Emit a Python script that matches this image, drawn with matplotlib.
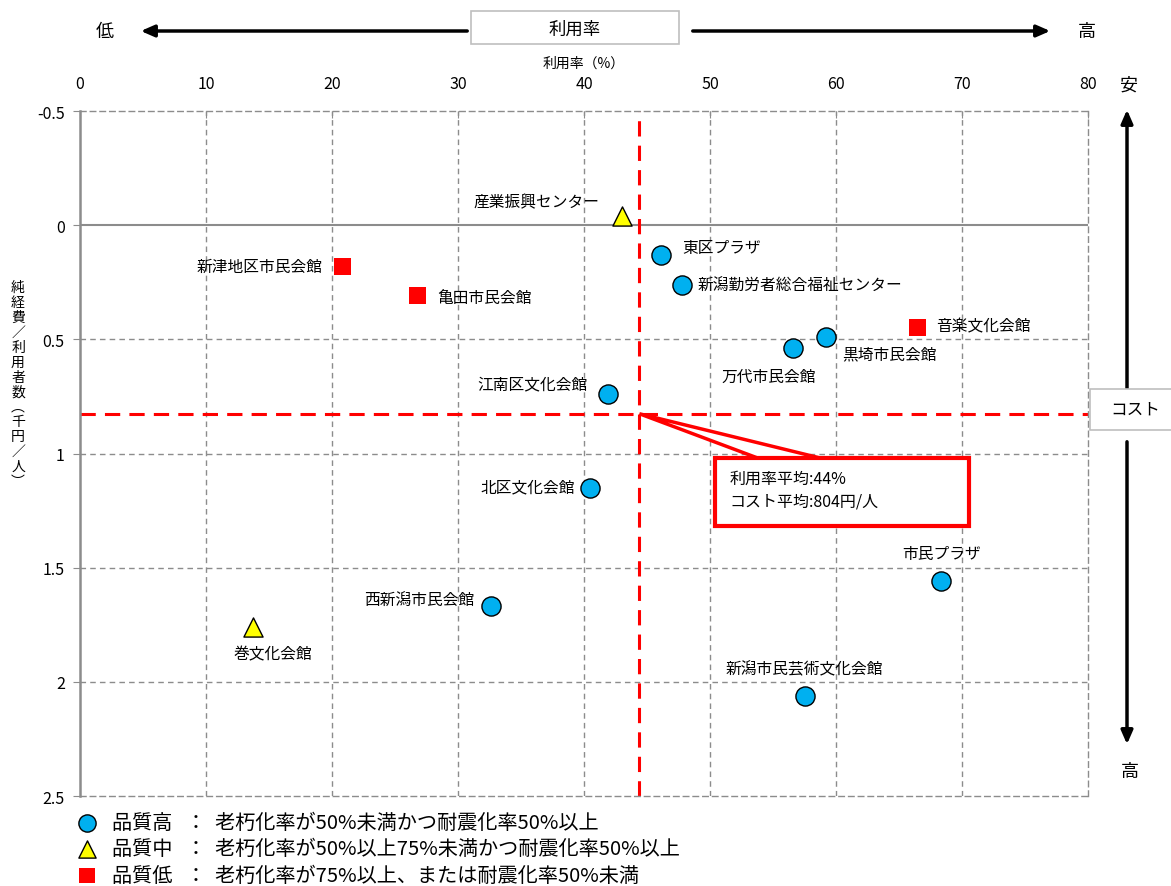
import matplotlib
matplotlib.use('Agg')
import matplotlib.pyplot as plt
from matplotlib.patches import Rectangle, Polygon

plt.rcParams['font.family'] = ['Noto Sans CJK JP', 'DejaVu Sans']

# データ
names = ['産業振興センター', '東区プラザ', '新潟勤労者総合福祉センター', '新津地区市民会館',
         '亀田市民会館', '音楽文化会館', '黒埼市民会館', '万代市民会館', '江南区文化会館',
         '北区文化会館', '市民プラザ', '西新潟市民会館', '巻文化会館', '新潟市民芸術文化会館']
usage = [43.0, 46.1, 47.8, 20.8, 26.8, 66.5, 59.2, 56.6, 41.9, 40.5, 68.3, 32.6, 13.7, 57.5]
cost = [-0.04, 0.13, 0.26, 0.18, 0.31, 0.45, 0.49, 0.54, 0.74, 1.15, 1.56, 1.67, 1.76, 2.06]
quality = ['中', '高', '高', '低', '低', '低', '高', '高', '高', '高', '高', '高', '中', '高']

avg_usage = 44.4
avg_cost = 0.826

legend_text = {
    '高': '品質高   ：  老朽化率が50%未満かつ耐震化率50%以上',
    '中': '品質中   ：  老朽化率が50%以上75%未満かつ耐震化率50%以上',
    '低': '品質低   ：  老朽化率が75%以上、または耐震化率50%未満',
}
styles = {
    '高': dict(marker='o', s=190, c='#00B0F0', edgecolors='black', linewidths=1.0),
    '中': dict(marker='^', s=190, c='#FFFF00', edgecolors='black', linewidths=1.0),
    '低': dict(marker='s', s=150, c='#FF0000', edgecolors='none'),
}

# ラベル位置 (ピクセルオフセット)
offsets = {
    '産業振興センター': (-22, 14, 'right'),
    '東区プラザ': (21, 7, 'left'),
    '新潟勤労者総合福祉センター': (15, -1, 'left'),
    '新津地区市民会館': (-20, 0, 'right'),
    '亀田市民会館': (20, -2, 'left'),
    '音楽文化会館': (18, 2, 'left'),
    '黒埼市民会館': (16, -17, 'left'),
    '万代市民会館': (23, -28, 'right'),
    '江南区文化会館': (-20, 10, 'right'),
    '北区文化会館': (-15, 1, 'right'),
    '市民プラザ': (1, 28, 'center'),
    '西新潟市民会館': (-16, 6, 'right'),
    '巻文化会館': (20, -27, 'center'),
    '新潟市民芸術文化会館': (0, 27, 'center'),
}

W, H = 1171, 887
fig = plt.figure(figsize=(W / 100, H / 100), dpi=100)
ax = fig.add_axes([80 / W, 1 - 797 / H, 1008 / W, 685 / H])

grid_c = '#8c8c8c'
ax.set_xlim(0, 80)
ax.set_ylim(2.5, -0.5)
ax.set_xticks(range(0, 81, 10))
ax.set_yticks([-0.5, 0, 0.5, 1, 1.5, 2, 2.5])
ax.set_yticklabels(['-0.5', '0', '0.5', '1', '1.5', '2', '2.5'])
ax.xaxis.tick_top()
ax.xaxis.set_label_position('top')
ax.tick_params(axis='x', direction='in', length=5, color=grid_c, labelsize=11.5, pad=14)
ax.tick_params(axis='y', direction='out', length=5, color=grid_c, labelsize=11.5, pad=6)

for x in range(10, 80, 10):
    ax.axvline(x, color=grid_c, ls=(0, (4, 3)), lw=1, zorder=0)
for y in [0.5, 1, 1.5, 2]:
    ax.axhline(y, color=grid_c, ls=(0, (4, 3)), lw=1, zorder=0)
ax.axhline(0, color=grid_c, lw=1.5, zorder=0)

for side in ['top', 'right', 'bottom']:
    ax.spines[side].set_color(grid_c)
    ax.spines[side].set_linestyle((0, (4, 3)))
    ax.spines[side].set_linewidth(1)
ax.spines['left'].set_color(grid_c)
ax.spines['left'].set_linewidth(1.8)

ax.set_xlabel('利用率（%）', fontsize=10, labelpad=6)

# 平均線
ax.axvline(avg_usage, color='red', ls=(0, (5, 3)), lw=2.2, zorder=1)
ax.axhline(avg_cost, color='red', ls=(0, (5, 3)), lw=2.2, zorder=1)

handles = []
for q in ['高', '中', '低']:
    xs = [u for u, k in zip(usage, quality) if k == q]
    ys = [c for c, k in zip(cost, quality) if k == q]
    h = ax.scatter(xs, ys, zorder=4, label=legend_text[q], **styles[q])
    handles.append(h)

for n, u, c in zip(names, usage, cost):
    dx, dy, ha = offsets[n]
    ax.annotate(n, (u, c), xytext=(dx, dy), textcoords='offset pixels',
                ha=ha, va='center', fontsize=11.3, zorder=5)

# 平均の吹き出し
tip = (ax.transData + ax.transAxes.inverted()).transform((avg_usage, avg_cost))
ax.add_patch(Polygon([tip, (0.7014, 0.4774), (0.7788, 0.4774)], closed=True,
                     transform=ax.transAxes, fc='white', ec='red', lw=2.5, zorder=6))
ax.add_patch(Rectangle((0.630, 0.394), 0.252, 0.0993, transform=ax.transAxes,
                       fc='white', ec='red', lw=3, zorder=7, clip_on=False))
ax.text(0.6448, 0.4635, '利用率平均:44%', transform=ax.transAxes,
        fontsize=11.5, va='center', ha='left', zorder=8)
ax.text(0.6448, 0.430, 'コスト平均:804円/人', transform=ax.transAxes,
        fontsize=11.5, va='center', ha='left', zorder=8)

# 縦書きの軸ラベル
ylabel = '純経費／利用者数︵千円／人︶'
fig.text(18 / W, 1 - 385 / H, '\n'.join(ylabel), ha='center', va='center',
         fontsize=10, linespacing=1.08)


def fp(x, y):
    return (x / W, 1 - y / H)


# 上部の矢印と見出し
arrow_kw = dict(arrowstyle='-|>,head_length=0.8,head_width=0.35', color='black', lw=2.5)
fig.text(*fp(105, 32), '低', ha='center', va='center', fontsize=13)
fig.text(*fp(1087, 32), '高', ha='center', va='center', fontsize=13)
ax.annotate('', xy=fp(138, 32), xytext=fp(470, 32), xycoords='figure fraction',
            textcoords='figure fraction', arrowprops=arrow_kw, annotation_clip=False)
ax.annotate('', xy=fp(1053, 32), xytext=fp(690, 32), xycoords='figure fraction',
            textcoords='figure fraction', arrowprops=arrow_kw, annotation_clip=False)
fig.patches.append(Rectangle(fp(471, 45), 208 / W, 33 / H, transform=fig.transFigure,
                             fc='white', ec='#bfbfbf', lw=1.2))
fig.text(*fp(575, 30), '利用率', ha='center', va='center', fontsize=12.5)

# 右側の矢印と見出し
fig.text(*fp(1129, 86), '安', ha='center', va='center', fontsize=13)
fig.text(*fp(1130, 772), '高', ha='center', va='center', fontsize=13)
ax.annotate('', xy=fp(1127, 108), xytext=fp(1127, 395), xycoords='figure fraction',
            textcoords='figure fraction', arrowprops=arrow_kw, annotation_clip=False)
ax.annotate('', xy=fp(1127, 748), xytext=fp(1127, 440), xycoords='figure fraction',
            textcoords='figure fraction', arrowprops=arrow_kw, annotation_clip=False)
fig.patches.append(Rectangle(fp(1090, 431), 90 / W, 41 / H, transform=fig.transFigure,
                             fc='white', ec='#bfbfbf', lw=1.2))
fig.text(*fp(1135, 410), 'コスト', ha='center', va='center', fontsize=12)

# 凡例
fig.legend(handles=handles, loc='upper left', bbox_to_anchor=fp(76, 813),
           frameon=False, fontsize=14.5, handletextpad=0.7, labelspacing=0.27,
           borderpad=0, borderaxespad=0, handlelength=1.1, markerscale=0.9)

fig.savefig('out.png', dpi=100)
